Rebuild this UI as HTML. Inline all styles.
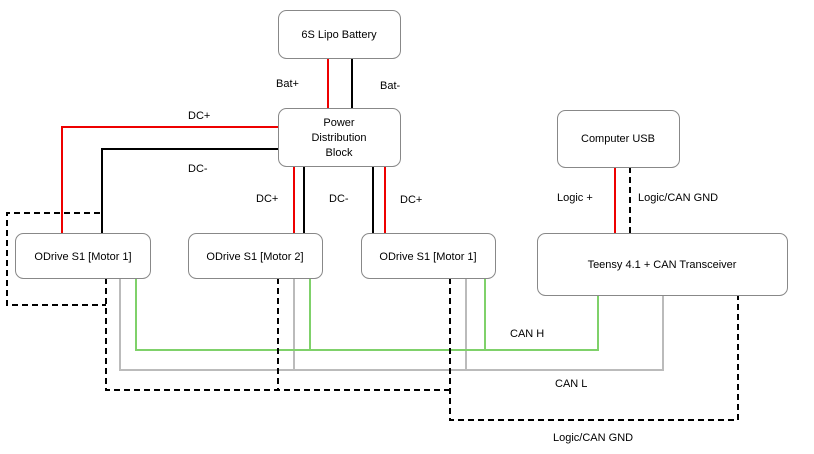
<!DOCTYPE html>
<html><head><meta charset="utf-8"><style>
body{margin:0;background:#fff}
svg{display:block}
text{font-family:"Liberation Sans",sans-serif;font-size:11px;fill:#000}
</style></head><body>
<svg width="814" height="454" viewBox="0 0 814 454">
<g fill="none" stroke-width="2">
<!-- battery leads -->
<line x1="328" y1="58" x2="328" y2="108" stroke="#e00"/>
<line x1="352" y1="58" x2="352" y2="108" stroke="#000"/>
<!-- odrive1 -->
<polyline points="278,127 62,127 62,233" stroke="#e00"/>
<polyline points="278,149 102,149 102,233" stroke="#000"/>
<!-- odrive2 -->
<line x1="294" y1="166" x2="294" y2="233" stroke="#e00"/>
<line x1="304" y1="166" x2="304" y2="233" stroke="#000"/>
<!-- odrive3 -->
<line x1="373" y1="166" x2="373" y2="233" stroke="#000"/>
<line x1="385" y1="166" x2="385" y2="233" stroke="#e00"/>
<!-- computer -->
<line x1="615" y1="167" x2="615" y2="233" stroke="#e00"/>
<line x1="630" y1="167" x2="630" y2="233" stroke="#000" stroke-dasharray="6,4"/>
<!-- grey CAN L -->
<g stroke="#bbb">
<polyline points="120,278 120,370 663,370 663,295"/>
<line x1="294" y1="278" x2="294" y2="370"/>
<line x1="466" y1="278" x2="466" y2="370"/>
</g>
<!-- green CAN H -->
<g stroke="#7fd16a">
<polyline points="136,278 136,350 598,350 598,295"/>
<line x1="310" y1="278" x2="310" y2="350"/>
<line x1="485" y1="278" x2="485" y2="350"/>
</g>
<!-- dashed GND -->
<g stroke="#000" stroke-dasharray="6,4">
<polyline points="100,213 7,213 7,305 106,305"/>
<polyline points="106,278 106,390 450,390"/>
<line x1="278" y1="278" x2="278" y2="390"/>
<polyline points="450,278 450,420 738,420 738,295"/>
</g>
</g>
<g fill="#fff" stroke="#888" stroke-width="1">
<rect x="278.5" y="10.5" width="122" height="48" rx="8"/>
<rect x="278.5" y="108.5" width="122" height="58" rx="8"/>
<rect x="557.5" y="110.5" width="122" height="57" rx="8"/>
<rect x="15.5" y="233.5" width="135" height="45" rx="8"/>
<rect x="188.5" y="233.5" width="134" height="45" rx="8"/>
<rect x="361.5" y="233.5" width="134" height="45" rx="8"/>
<rect x="537.5" y="233.5" width="250" height="62" rx="8"/>
</g>
<g text-anchor="middle">
<text x="339" y="38">6S Lipo Battery</text>
<text x="339" y="126">Power</text>
<text x="339" y="141">Distribution</text>
<text x="339" y="156">Block</text>
<text x="618" y="142">Computer USB</text>
<text x="83" y="260">ODrive S1 [Motor 1]</text>
<text x="255" y="260">ODrive S1 [Motor 2]</text>
<text x="428" y="260">ODrive S1 [Motor 1]</text>
<text x="662" y="268">Teensy 4.1 + CAN Transceiver</text>
</g>
<text x="276" y="87">Bat+</text>
<text x="380" y="89">Bat-</text>
<text x="188" y="119">DC+</text>
<text x="188" y="172">DC-</text>
<text x="256" y="202">DC+</text>
<text x="329" y="202">DC-</text>
<text x="400" y="203">DC+</text>
<text x="557" y="201">Logic +</text>
<text x="638" y="201">Logic/CAN GND</text>
<text x="510" y="337">CAN H</text>
<text x="555" y="387">CAN L</text>
<text x="553" y="441">Logic/CAN GND</text>
</svg>
</body></html>
